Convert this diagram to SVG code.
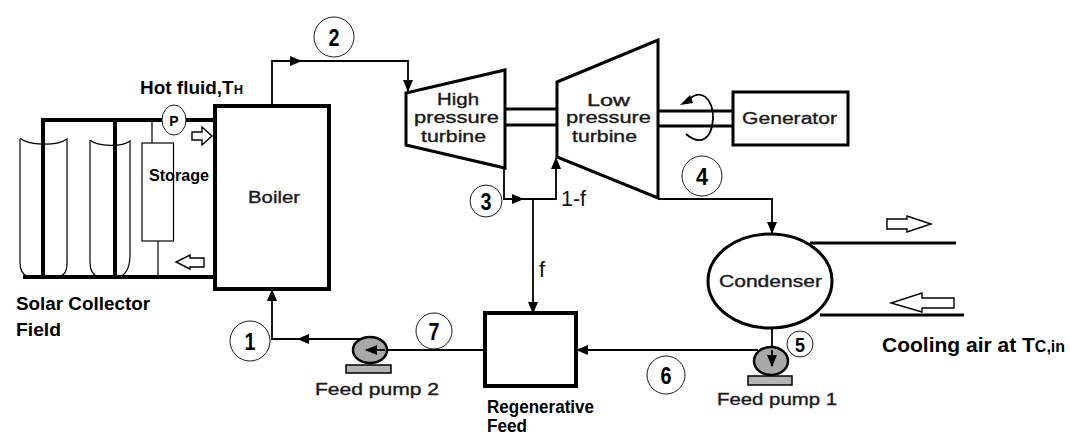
<svg xmlns="http://www.w3.org/2000/svg" width="1070" height="437" viewBox="0 0 1070 437">
<style>
.k{fill:none;stroke:#000}
.w5{stroke-width:4}
.w3{stroke-width:3}
.w2{stroke-width:1.8}
.w1{stroke-width:1.2}
.hollow{fill:#fff;stroke:#000;stroke-width:1.4}
.pump{fill:#a8a8a8;stroke:#000;stroke-width:2.5}
.base{fill:#b4b4b4;stroke:#000;stroke-width:1.5}
.num{fill:#fff;stroke:#000;stroke-width:.9}
.nt{font-family:"Liberation Sans",sans-serif;font-weight:700;font-size:24px;fill:#000}
.lab{font-family:"Liberation Sans",sans-serif;font-size:16px;fill:#1a1a1a;stroke:#1a1a1a;stroke-width:.35}
.bld{font-family:"Liberation Sans",sans-serif;font-weight:700;font-size:18px;fill:#000}
.c{text-anchor:middle}
</style>
<defs>
<marker id="ah" viewBox="0 0 12 10" refX="11" refY="5" markerWidth="12" markerHeight="10" markerUnits="userSpaceOnUse" orient="auto"><path d="M0 0L12 5L0 10Z" fill="#000"/></marker>
</defs>
<g id="connectors">
<path class="k w2" d="M272 106V61H408V91" marker-end="url(#ah)"/>
<path class="k w2" d="M272 61H301" marker-end="url(#ah)"/>
<path class="k w2" d="M504 168V199H556V158" marker-end="url(#ah)"/>
<path class="k w2" d="M504 199H523" marker-end="url(#ah)"/>
<path class="k w2" d="M533 199V313" marker-end="url(#ah)"/>
<path class="k w2" d="M658 199H772V233" marker-end="url(#ah)"/>
<path class="k w2" d="M772 328V366" marker-end="url(#ah)"/>
<path class="k w2" d="M758 350H577" marker-end="url(#ah)"/>
<path class="k w2" d="M485 350H366"/>
<path class="k w2" d="M360 339H272V290" marker-end="url(#ah)"/>
<path class="k w2" d="M360 339H298" marker-end="url(#ah)"/>
<path class="k w3" d="M505 109H557M505 125H557"/>
<path class="k w3" d="M658 111H733M658 126H733"/>
<path class="k w3" d="M810 243H956M820 315H964"/>
<path class="k w5" d="M23 277H215M43 277V120H215M115 277V120"/>
<path class="k w1" d="M152 120V143M158 241V277"/>
</g>
<g id="collector-1"><path class="k w1" d="M20 138C28 146 58 146 67 139V262C67 270 66 274 59 277M20 139V262C20 270 22 274 28 277"/></g>
<g id="collector-2"><path class="k w1" d="M90 140C98 147 122 147 130 141V255C130 265 128 273 120 277M90 140V262C90 270 92 274 98 277"/></g>
<g id="pump-p"><ellipse cx="174" cy="120" rx="12" ry="15" class="num"/><text x="174" y="126" class="c" style="font-family:'Liberation Sans',sans-serif;font-weight:700;font-size:14px">P</text></g>
<g id="storage"><rect x="142" y="143" width="31.500" height="98" class="k w1"/><text x="149" y="181" class="bld" style="font-size:16px" textLength="60" lengthAdjust="spacingAndGlyphs">Storage</text></g>
<g id="arrow-hot"><path class="hollow" d="M192 132H202V127L212 136L202 145V140H192Z"/></g>
<g id="arrow-cold"><path class="hollow" d="M204 258H190V255L176 262L190 269V267H204Z"/></g>
<g id="boiler"><rect x="215" y="106" width="114" height="183" class="k w5"/><text x="248" y="203" class="lab" textLength="52" lengthAdjust="spacingAndGlyphs">Boiler</text></g>
<g id="hp-turbine"><path class="k w3" d="M406 93L505 70V168L406 145Z"/><text x="437" y="105" class="lab" textLength="42" lengthAdjust="spacingAndGlyphs">High</text><text x="414" y="123" class="lab" textLength="85" lengthAdjust="spacingAndGlyphs">pressure</text><text x="421" y="142" class="lab" textLength="65" lengthAdjust="spacingAndGlyphs">turbine</text></g>
<g id="lp-turbine"><path class="k w3" d="M557 82L658 40V198L557 157Z"/><text x="587" y="106" class="lab" textLength="43" lengthAdjust="spacingAndGlyphs">Low</text><text x="566" y="123" class="lab" textLength="85" lengthAdjust="spacingAndGlyphs">pressure</text><text x="572" y="142" class="lab" textLength="65" lengthAdjust="spacingAndGlyphs">turbine</text></g>
<g id="rotation"><path class="k w2" d="M687 102C700 85 714 100 713 118C712 140 700 146 686 134"/><path d="M680 105L690 95L693 103Z" fill="#000"/></g>
<g id="generator"><rect x="733" y="92" width="115" height="53" class="k w3"/><text x="742" y="124" class="lab" textLength="95" lengthAdjust="spacingAndGlyphs">Generator</text></g>
<g id="condenser"><ellipse cx="770" cy="281" rx="62" ry="47" class="k w3"/><text x="719" y="287" class="lab" textLength="103" lengthAdjust="spacingAndGlyphs">Condenser</text></g>
<g id="arrow-out"><path class="hollow" d="M887 219H907V216L931 224L907 232V229H887Z"/></g>
<g id="arrow-in"><path class="hollow" d="M954 298H922V293L891 303L922 312V308H954Z"/></g>
<g id="regenerator"><rect x="485" y="313" width="91" height="73" class="k w5"/></g>
<g id="feed-pump-2"><rect x="346" y="365" width="45" height="8" class="base"/><ellipse cx="370" cy="350" rx="17" ry="13" class="pump"/><path class="k w2" d="M385 350H366" marker-end="url(#ah)"/><text x="315" y="395" class="lab" textLength="124" lengthAdjust="spacingAndGlyphs">Feed pump 2</text></g>
<g id="feed-pump-1"><rect x="748" y="376" width="44" height="9" class="base"/><ellipse cx="771" cy="361" rx="17" ry="14" class="pump"/><path class="k w2" d="M772 350V366" marker-end="url(#ah)"/><text x="717" y="405" class="lab" textLength="120" lengthAdjust="spacingAndGlyphs">Feed pump 1</text></g>
<g id="state-1"><circle cx="250" cy="341" r="20" class="num"/><text x="250" y="350" class="nt c" textLength="11" lengthAdjust="spacingAndGlyphs">1</text></g>
<g id="state-2"><circle cx="334" cy="37" r="20" class="num"/><text x="334" y="46" class="nt c" textLength="11" lengthAdjust="spacingAndGlyphs">2</text></g>
<g id="state-3"><circle cx="486" cy="201" r="16" class="num"/><text x="486" y="210" class="nt c" textLength="11" lengthAdjust="spacingAndGlyphs">3</text></g>
<g id="state-4"><circle cx="702" cy="176" r="20" class="num"/><text x="702" y="185" class="nt c" textLength="12" lengthAdjust="spacingAndGlyphs">4</text></g>
<g id="state-5"><circle cx="800" cy="344" r="13" class="num"/><text x="800" y="352" class="nt c" style="font-size:21px" textLength="10" lengthAdjust="spacingAndGlyphs">5</text></g>
<g id="state-6"><circle cx="666" cy="375" r="19" class="num"/><text x="666" y="384" class="nt c" textLength="11" lengthAdjust="spacingAndGlyphs">6</text></g>
<g id="state-7"><circle cx="434" cy="331" r="18" class="num"/><text x="434" y="340" class="nt c" textLength="11" lengthAdjust="spacingAndGlyphs">7</text></g>
<g id="labels">
<text x="140" y="94" class="bld" style="font-size:19px" textLength="103" lengthAdjust="spacingAndGlyphs">Hot fluid,T<tspan font-size="13">H</tspan></text>
<text x="16" y="310" class="bld" textLength="134" lengthAdjust="spacingAndGlyphs">Solar Collector</text>
<text x="16" y="336" class="bld" textLength="45" lengthAdjust="spacingAndGlyphs">Field</text>
<text x="561" y="206" style="font-family:'Liberation Sans',sans-serif;font-size:22px" fill="#111" textLength="25" lengthAdjust="spacingAndGlyphs">1-f</text>
<text x="539" y="277" style="font-family:'Liberation Sans',sans-serif;font-size:22px" fill="#111">f</text>
<text x="487" y="413" class="bld" textLength="107" lengthAdjust="spacingAndGlyphs">Regenerative</text>
<text x="487" y="432" class="bld" textLength="40" lengthAdjust="spacingAndGlyphs">Feed</text>
<text x="882" y="352" class="bld" style="font-size:21px">Cooling air at T<tspan font-size="16">C,in</tspan></text>
</g>
</svg>
